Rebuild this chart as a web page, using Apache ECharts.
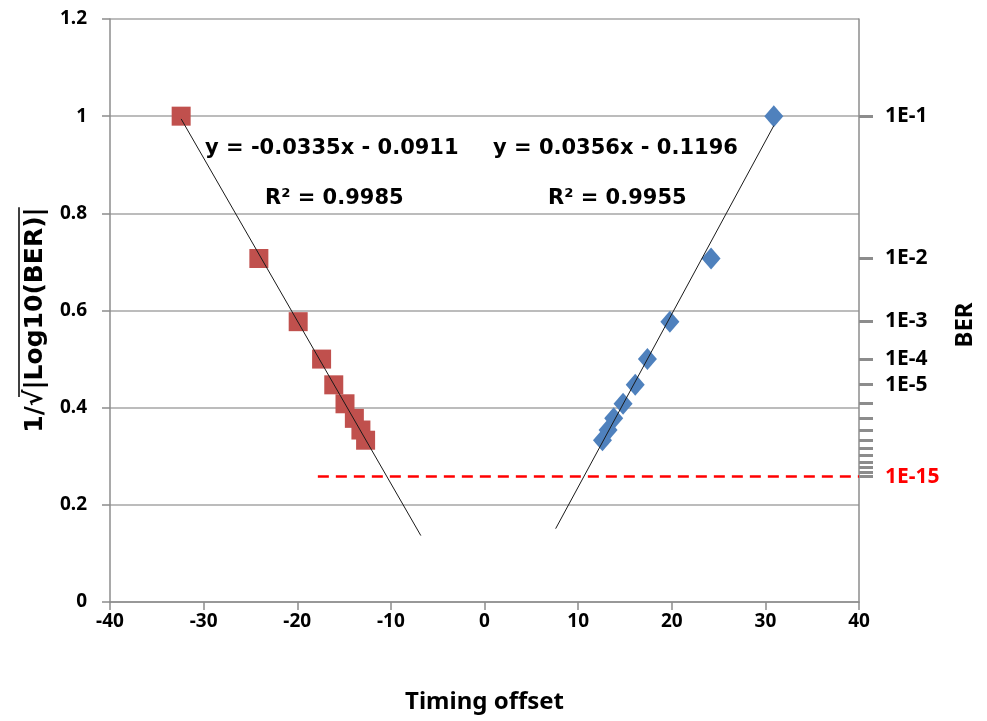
<!DOCTYPE html>
<html>
<head>
<meta charset="utf-8">
<script src="https://cdn.jsdelivr.net/npm/echarts@6/dist/echarts.min.js"></script>
<style>
html,body{margin:0;padding:0;background:#fff;}
#chart{width:987px;height:721px;}
</style>
</head>
<body>
<div id="chart"></div>
<script>
// ---- data ----
const redX = [-32.4, -24.1, -19.9, -17.4, -16.1, -14.9, -13.9, -13.2, -12.7];
const redY = [1.0, 0.707, 0.577, 0.5, 0.447, 0.408, 0.378, 0.354, 0.333];
const blueX = [30.9, 24.2, 19.8, 17.4, 16.1, 14.8, 13.8, 13.2, 12.6];
const blueY = [1.0, 0.707, 0.577, 0.5, 0.447, 0.408, 0.378, 0.354, 0.333];

const redFit = { slope: -0.0335, intercept: -0.0911, r2: '0.9985', xFrom: -32.4, xTo: -6.8 };
const blueFit = { slope: 0.0356, intercept: -0.1196, r2: '0.9955', xFrom: 7.6, xTo: 30.9 };

const xTicks = [-40, -30, -20, -10, 0, 10, 20, 30, 40];
const yTicks = [0, 0.2, 0.4, 0.6, 0.8, 1, 1.2];

// BER right axis: exponents n of 1E-n
const berTickExponents = [1,2,3,4,5,6,7,8,9,10,11,12,13,14,15];
const berLabelExponents = [1,2,3,4,5,15];
const berLabels = ['1E-1','1E-2','1E-3','1E-4','1E-5','1E-15'];
const berLimitExponent = 15;
const berLimitXFrom = -17.8;

const yTitlePrefix = '1/√';
const yTitleRadicand = '|Log10(BER)|';
const xTitle = 'Timing offset';
const y2Title = 'BER';

// ---- helpers ----
const berToY = n => 1 / Math.sqrt(n);   // y = 1/sqrt(|log10(1E-n)|)
const fitLine = f => [[f.xFrom, f.slope * f.xFrom + f.intercept], [f.xTo, f.slope * f.xTo + f.intercept]];
const fmtEq = f => 'y = ' + f.slope.toFixed(4) + 'x ' + (f.intercept < 0 ? '- ' : '+ ') + Math.abs(f.intercept).toFixed(4);

const FONT = '"Noto Sans", "DejaVu Sans", sans-serif';
const EQFONT = '"DejaVu Sans", "Noto Sans", sans-serif';
const AX = '#8c8c8c';

// measure y-title pieces to place the radical's overline
const YT_SIZE = 25;
const mctx = document.createElement('canvas').getContext('2d');
mctx.font = 'bold ' + YT_SIZE + 'px ' + EQFONT;
const wPre = mctx.measureText('1/').width;
const wSqrt = mctx.measureText('√').width;
const wAll = mctx.measureText(yTitlePrefix + yTitleRadicand).width;
const ytCx = 35, ytCy = 320;
const ytStart = ytCy + wAll / 2;           // bottom end (text reads upward)
const olFrom = ytStart - wPre - 0.55 * wSqrt;
const olTo = ytCy - wAll / 2;

const chart = echarts.init(document.getElementById('chart'), null, { renderer: 'canvas' });

const option = {
  backgroundColor: '#ffffff',
  animation: false,
  textStyle: { fontFamily: FONT },
  grid: { left: 110, right: 128, top: 19, bottom: 119, containLabel: false },
  xAxis: {
    type: 'value', min: xTicks[0], max: xTicks[xTicks.length - 1], interval: 10,
    name: xTitle, nameLocation: 'middle', nameGap: 88,
    nameTextStyle: { fontFamily: FONT, fontSize: 24, fontWeight: 'bold', color: '#000' },
    axisLine: { show: true, onZero: false, lineStyle: { color: AX, width: 1.5 } },
    axisTick: { show: true, length: 8, lineStyle: { color: AX, width: 1.5 } },
    axisLabel: { fontFamily: FONT, fontSize: 19, fontWeight: 'bold', color: '#000', margin: 10 },
    splitLine: { show: false }
  },
  yAxis: [
    {
      type: 'value', min: yTicks[0], max: yTicks[yTicks.length - 1], interval: 0.2,
      position: 'left',
      axisLine: { show: true, onZero: false, lineStyle: { color: AX, width: 1.5 } },
      axisTick: { show: true, length: 8, lineStyle: { color: AX, width: 1.5 } },
      axisLabel: { fontFamily: FONT, fontSize: 19, fontWeight: 'bold', color: '#000', margin: 23 },
      splitLine: { show: true, lineStyle: { color: '#a6a6a6', width: 1.5 } }
    },
    {
      type: 'value', min: yTicks[0], max: yTicks[yTicks.length - 1],
      position: 'right',
      axisLine: { show: true, onZero: false, lineStyle: { color: AX, width: 1.5 } },
      axisTick: {
        show: true, length: 14, inside: false,
        customValues: berTickExponents.map(berToY),
        lineStyle: { color: AX, width: 3 }
      },
      axisLabel: {
        show: true, margin: 26,
        customValues: berLabelExponents.map(berToY),
        fontFamily: FONT, fontSize: 21, fontWeight: 'bold', color: '#000',
        formatter: function (v) {
          let best = 0, bd = 1e9;
          berLabelExponents.forEach((n, i) => { const d = Math.abs(berToY(n) - v); if (d < bd) { bd = d; best = i; } });
          const txt = berLabels[best];
          return berLabelExponents[best] === berLimitExponent ? '{red|' + txt + '}' : txt;
        },
        rich: { red: { color: '#ff0000', fontFamily: FONT, fontSize: 21, fontWeight: 'bold' } }
      },
      splitLine: { show: false }
    }
  ],
  series: [
    {
      type: 'line', name: 'BER limit', yAxisIndex: 0,
      data: [[berLimitXFrom, berToY(berLimitExponent)], [xTicks[xTicks.length - 1], berToY(berLimitExponent)]],
      symbol: 'none', lineStyle: { color: '#ff0000', width: 2.5, type: [11, 7] }, z: 3
    },
    {
      type: 'scatter', name: 'left', data: redX.map((x, i) => [x, redY[i]]),
      symbol: 'rect', symbolSize: 19, itemStyle: { color: '#c0504d', opacity: 1 }, z: 4
    },
    {
      type: 'scatter', name: 'right', data: blueX.map((x, i) => [x, blueY[i]]),
      symbol: 'diamond', symbolSize: [19, 22], itemStyle: { color: '#4f81bd', opacity: 1 }, z: 4
    },
    {
      type: 'line', name: 'fit left', data: fitLine(redFit), symbol: 'none',
      lineStyle: { color: '#1a1a1a', width: 1 }, z: 5
    },
    {
      type: 'line', name: 'fit right', data: fitLine(blueFit), symbol: 'none',
      lineStyle: { color: '#1a1a1a', width: 1 }, z: 5
    }
  ],
  graphic: [
    { type: 'text', left: 205, top: 138, z: 10,
      style: { text: fmtEq(redFit), fontFamily: EQFONT, fontSize: 21, fontWeight: 'bold', fill: '#000' } },
    { type: 'text', left: 265, top: 188, z: 10,
      style: { text: 'R² = ' + redFit.r2, fontFamily: EQFONT, fontSize: 21, fontWeight: 'bold', fill: '#000' } },
    { type: 'text', left: 493, top: 138, z: 10,
      style: { text: fmtEq(blueFit), fontFamily: EQFONT, fontSize: 21, fontWeight: 'bold', fill: '#000' } },
    { type: 'text', left: 548, top: 188, z: 10,
      style: { text: 'R² = ' + blueFit.r2, fontFamily: EQFONT, fontSize: 21, fontWeight: 'bold', fill: '#000' } },
    { type: 'text', x: ytCx, y: ytCy, rotation: Math.PI / 2, z: 10,
      style: { text: yTitlePrefix + yTitleRadicand, fontFamily: EQFONT, fontSize: YT_SIZE, fontWeight: 'bold',
               fill: '#000', align: 'center', verticalAlign: 'middle' } },
    { type: 'line', z: 10, shape: { x1: 19, y1: olFrom, x2: 19, y2: olTo }, style: { stroke: '#000', lineWidth: 1.5 } },
    { type: 'text', x: 965, y: 325, rotation: Math.PI / 2, z: 10,
      style: { text: y2Title, fontFamily: FONT, fontSize: 24, fontWeight: 'bold',
               fill: '#000', align: 'center', verticalAlign: 'middle' } }
  ]
};

chart.setOption(option);
</script>
</body>
</html>
